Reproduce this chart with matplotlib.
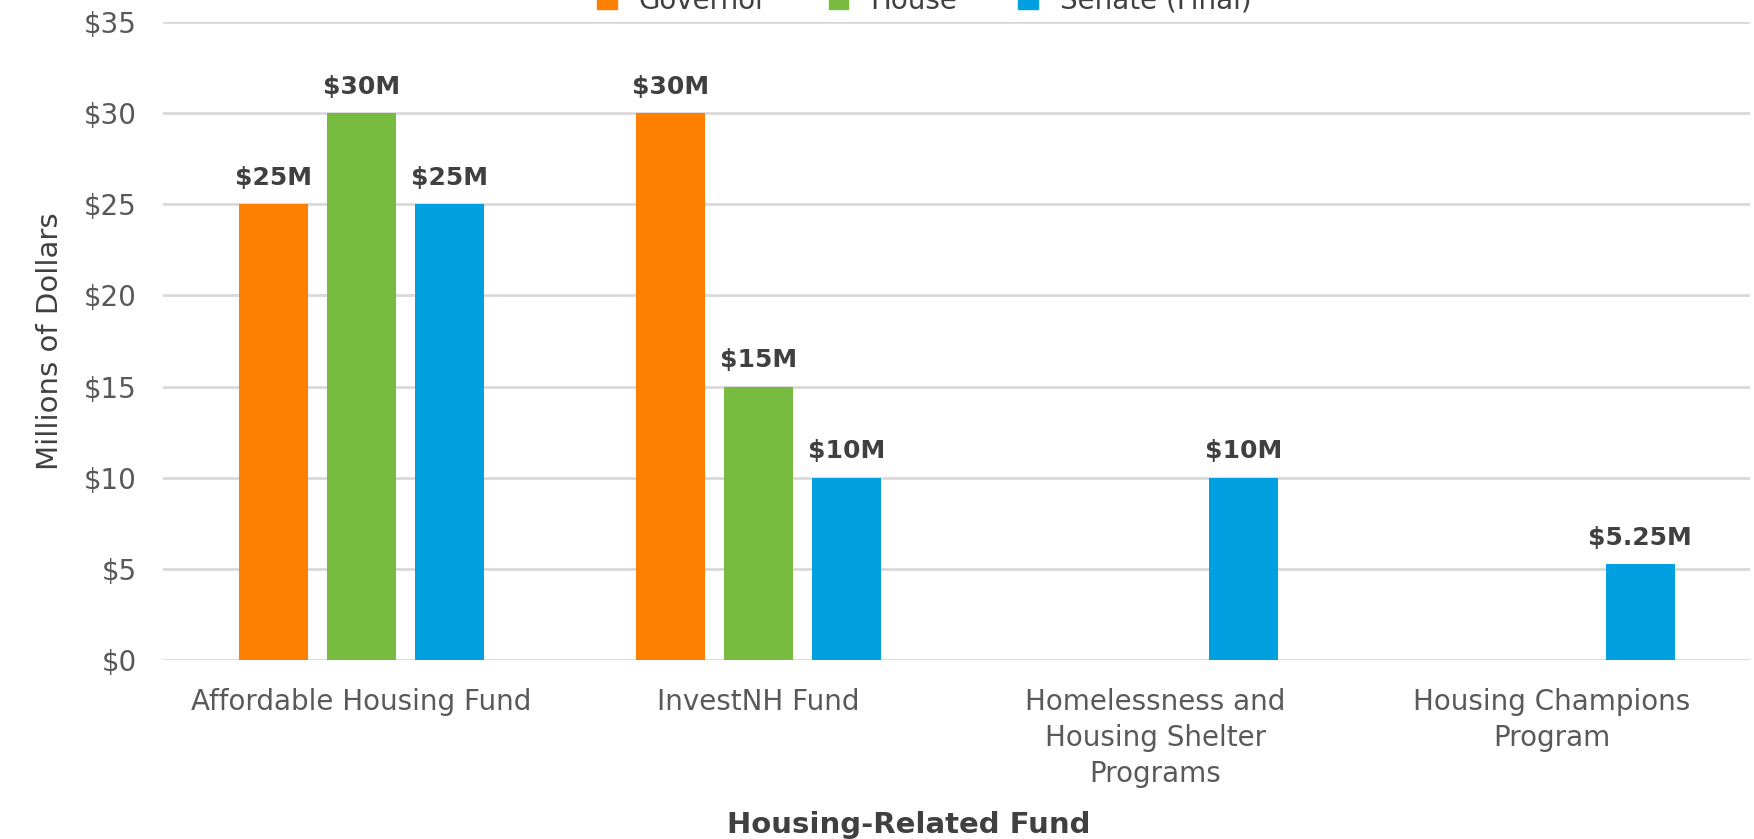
import matplotlib.pyplot as plt
import numpy as np
from matplotlib.patches import Patch

# Data
funds = ["Affordable Housing Fund", "InvestNH Fund",
         "Homelessness and\nHousing Shelter\nPrograms", "Housing Champions\nProgram"]
series = ["Governor", "House", "Senate (Final)"]
governor = [25, 30, None, None]
house = [30, 15, None, None]
senate = [25, 10, 10, 5.25]
labels_gov = ["$25M", "$30M", "", ""]
labels_house = ["$30M", "$15M", "", ""]
labels_senate = ["$25M", "$10M", "$10M", "$5.25M"]
yticks = [0, 5, 10, 15, 20, 25, 30, 35]
colors = ["#FF8000", "#77BB41", "#009FDF"]

plt.rcParams["font.family"] = ["DejaVu Sans"]

fig = plt.figure(figsize=(17.54, 8.39), dpi=100)
ax = fig.add_axes([0.093, 0.2134, 0.905, 0.7604])

x = np.arange(len(funds))
width = 0.174
offset = 0.222
all_vals = [governor, house, senate]
all_labels = [labels_gov, labels_house, labels_senate]

for i, (vals, labs, c) in enumerate(zip(all_vals, all_labels, colors)):
    pos = x + (i - 1) * offset
    for p, v, lab in zip(pos, vals, labs):
        if v is None:
            continue
        ax.bar(p, v, width=width, color=c, zorder=3)
        ax.text(p, v + 0.8, lab, ha="center", va="bottom", fontsize=18,
                fontweight="bold", color="#404040")

ax.set_xlim(-0.5, 3.5)
ax.set_ylim(0, 35)
ax.set_yticks(yticks)
ax.set_yticklabels([f"${t}" for t in yticks])
ax.set_xticks(x)
ax.set_xticklabels(funds, linespacing=1.38)
ax.tick_params(axis="both", length=0, labelsize=20, colors="#595959")
ax.tick_params(axis="x", pad=20)
ax.tick_params(axis="y", pad=19)
ax.grid(axis="y", color="#D9D9D9", linewidth=2, zorder=0)
for s in ax.spines.values():
    s.set_visible(False)

ax.set_ylabel("Millions of Dollars", fontsize=21, color="#404040", labelpad=14)
fig.text(0.518, 0.017, "Housing-Related Fund", ha="center", va="center",
         fontsize=21, fontweight="bold", color="#404040")

handles = [Patch(color=c) for c in colors]
fig.legend(handles, series, loc="center", bbox_to_anchor=(0.527, 0.999), ncol=3,
           frameon=False, fontsize=20, handlelength=0.7, handleheight=0.7,
           columnspacing=2.2, labelcolor="#404040")

fig.savefig("out.png", dpi=100)
